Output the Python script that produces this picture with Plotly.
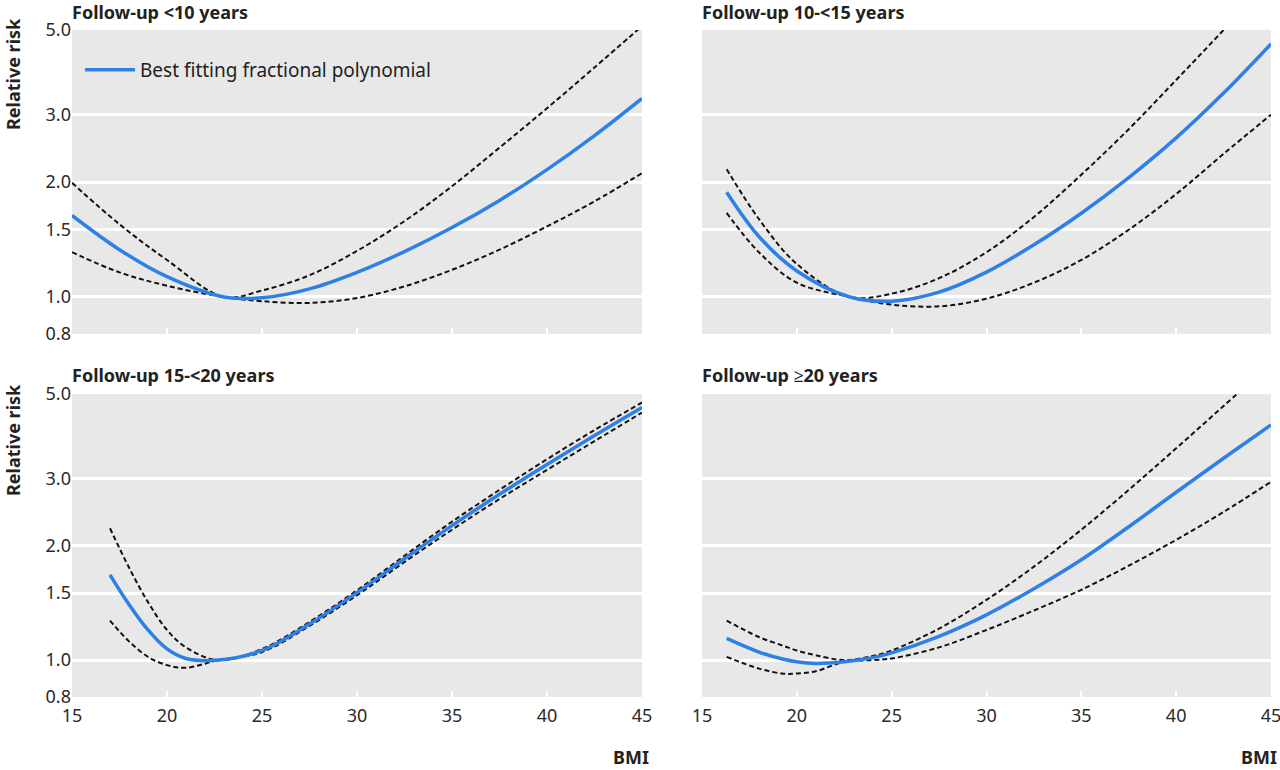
import math
import plotly.graph_objects as go

# ---------------- data ----------------
titles = ["Follow-up <10 years", "Follow-up 10-<15 years",
          "Follow-up 15-<20 years", "Follow-up ≥20 years"]
y_ticks = [0.8, 1.0, 1.5, 2.0, 3.0, 5.0]
y_tick_labels = ["0.8", "1.0", "1.5", "2.0", "3.0", "5.0"]
x_ticks = [15, 20, 25, 30, 35, 40, 45]
legend_name = "Best fitting fractional polynomial"

# Panel 1: follow-up <10 years
p1_x = [15, 17.5, 20, 23, 25, 27.5, 30, 32.5, 35, 37.5, 40, 42.5, 45]
p1_fit = [1.635, 1.33, 1.13, 1.0, 0.995, 1.05, 1.16, 1.315, 1.52, 1.79, 2.155, 2.645, 3.31]
p1_up = [1.99, 1.55, 1.25, 1.0, 1.04, 1.14, 1.32, 1.58, 1.95, 2.46, 3.12, 3.99, 5.12]
p1_lo = [1.31, 1.16, 1.07, 1.0, 0.975, 0.965, 0.994, 1.066, 1.178, 1.33, 1.53, 1.78, 2.11]

# Panel 2: follow-up 10-<15 years
p2_x = [16.3, 18, 20, 22.8, 25, 27.5, 30, 32.5, 35, 37.5, 40, 42.5, 45]
p2_fit = [1.88, 1.44, 1.17, 1.0, 0.975, 1.03, 1.162, 1.37, 1.657, 2.054, 2.61, 3.42, 4.6]
p2_up = [2.16, 1.6, 1.22, 1.0, 1.02, 1.12, 1.31, 1.62, 2.09, 2.75, 3.7, 5.0, 6.8]
p2_lo = [1.66, 1.31, 1.09, 1.0, 0.955, 0.945, 0.99, 1.09, 1.25, 1.5, 1.86, 2.37, 3.0]

# Panel 3: follow-up 15-<20 years
p3_x = [17, 18, 19, 20, 21, 22.7, 25, 27.5, 30, 32.5, 35, 37.5, 40, 42.5, 45]
p3_fit = [1.675, 1.40, 1.2, 1.07, 1.01, 1.0, 1.06, 1.244, 1.504, 1.846, 2.255, 2.727, 3.264, 3.89, 4.61]
p3_up = [2.22, 1.75, 1.42, 1.2, 1.08, 1.0, 1.07, 1.26, 1.525, 1.88, 2.31, 2.8, 3.37, 4.02, 4.75]
p3_lo = [1.27, 1.12, 1.02, 0.97, 0.955, 1.0, 1.05, 1.23, 1.48, 1.81, 2.2, 2.65, 3.16, 3.76, 4.47]

# Panel 4: follow-up >=20 years
p4_x = [16.3, 18, 19.3, 20, 21, 22.5, 24, 25, 27.5, 30, 32.5, 35, 37.5, 40, 42.5, 45]
p4_fit = [1.14, 1.05, 1.005, 0.99, 0.98, 0.99, 1.015, 1.045, 1.155, 1.315, 1.54, 1.835, 2.24, 2.76, 3.39, 4.15]
p4_up = [1.27, 1.15, 1.09, 1.06, 1.03, 1.0, 1.025, 1.06, 1.21, 1.44, 1.76, 2.2, 2.8, 3.6, 4.65, 6.0]
p4_lo = [1.02, 0.95, 0.921, 0.922, 0.935, 0.99, 1.0, 1.01, 1.08, 1.2, 1.35, 1.53, 1.77, 2.07, 2.45, 2.94]

panels = [
    (p1_x, p1_fit, p1_up, p1_lo),
    (p2_x, p2_fit, p2_up, p2_lo),
    (p3_x, p3_fit, p3_up, p3_lo),
    (p4_x, p4_fit, p4_up, p4_lo),
]

# ---------------- layout ----------------
W, H = 1280, 770
FONT = "Noto Sans"
BLUE = "#2f80e6"
BG = "#e8e8e8"
TXT = "#222222"

x_doms = [[72 / W, 642 / W], [702 / W, 1271 / W]]
y_doms = [[1 - 334 / H, 1 - 30 / H], [1 - 697 / H, 1 - 394 / H]]
yr = [math.log10(0.8), math.log10(5.0)]

fig = go.Figure()

for i, (xs, fit, up, lo) in enumerate(panels):
    r, c = divmod(i, 2)
    ax = "" if i == 0 else str(i + 1)
    xa, ya = "x" + ax, "y" + ax
    for ys in (up, lo):
        fig.add_trace(go.Scatter(x=xs, y=ys, mode="lines", xaxis=xa, yaxis=ya,
                                 line=dict(color="#111111", width=2.0, dash="5px,3px",
                                           shape="spline", smoothing=1.0),
                                 showlegend=False, hoverinfo="skip"))
    fig.add_trace(go.Scatter(x=xs, y=fit, mode="lines", xaxis=xa, yaxis=ya,
                             line=dict(color=BLUE, width=3.5, shape="spline", smoothing=1.0),
                             name=legend_name, showlegend=(i == 0)))

    fig.layout["xaxis" + ax] = dict(
        domain=x_doms[c], anchor=ya, range=[15, 45], tickvals=x_ticks,
        showticklabels=(r == 1), showgrid=False, zeroline=False, automargin=False,
        ticks="inside", ticklen=6, tickwidth=2, tickcolor="white",
        ticklabelstandoff=6, ticklabeloverflow="allow",
        tickfont=dict(family=FONT, size=18, color="#2a2a2a"), showline=False,
    )
    fig.layout["yaxis" + ax] = dict(
        domain=y_doms[r], anchor=xa, type="log", range=yr, automargin=False,
        tickvals=y_ticks, ticktext=y_tick_labels, showticklabels=(c == 0),
        showgrid=True, gridcolor="white", gridwidth=2.5, zeroline=False,
        ticks="", tickfont=dict(family=FONT, size=18, color="#2a2a2a"),
        showline=False,
    )

annotations = []
title_pos = [(70, 12), (700, 12), (70, 375), (700, 375)]
for t, (px, py) in zip(titles, title_pos):
    annotations.append(dict(text="<b>" + t + "</b>", x=px / W, y=1 - py / H,
                            xref="paper", yref="paper", xanchor="left", yanchor="middle",
                            showarrow=False, font=dict(family=FONT, size=18, color=TXT)))
for py in (74, 440):
    annotations.append(dict(text="<b>Relative risk</b>", x=13 / W, y=1 - py / H,
                            xref="paper", yref="paper", xanchor="center", yanchor="middle",
                            textangle=-90, showarrow=False,
                            font=dict(family=FONT, size=18, color=TXT)))
for px in (651, 1279):
    annotations.append(dict(text="<b>BMI</b>", x=px / W, y=1 - 757 / H,
                            xref="paper", yref="paper", xanchor="right", yanchor="middle",
                            showarrow=False, font=dict(family=FONT, size=18, color=TXT)))

fig.update_layout(
    width=W, height=H, margin=dict(l=0, r=0, t=0, b=0, autoexpand=False),
    paper_bgcolor="white", plot_bgcolor=BG,
    annotations=annotations,
    legend=dict(x=80 / W, y=1 - 70 / H, xanchor="left", yanchor="middle",
                itemwidth=50,
                bgcolor="rgba(0,0,0,0)", font=dict(family=FONT, size=19, color=TXT)),
    font=dict(family=FONT),
)

fig.write_html("out.html", config={"displayModeBar": False},
               post_script="document.body.style.margin='0';")
